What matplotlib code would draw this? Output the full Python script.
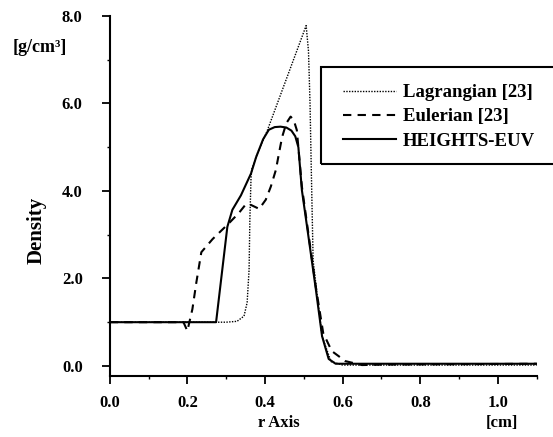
import matplotlib
matplotlib.use("Agg")
import matplotlib.pyplot as plt
from matplotlib.patches import Rectangle
from matplotlib.ticker import MultipleLocator, FormatStrFormatter

# Density profiles
heights_x = [0.0, 0.274, 0.303, 0.316, 0.338, 0.364, 0.377, 0.395, 0.41, 0.425,
             0.44, 0.455, 0.468, 0.478, 0.486, 0.495, 0.513, 0.531, 0.547, 0.564,
             0.582, 1.1]
heights_y = [1.0, 1.0, 3.18, 3.57, 3.9, 4.4, 4.77, 5.18, 5.4, 5.46,
             5.47, 5.45, 5.38, 5.25, 5.0, 4.02, 2.89, 1.75, 0.68, 0.16,
             0.05, 0.05]

euler_x = [0.0, 0.19, 0.20, 0.213, 0.223, 0.236, 0.265, 0.308, 0.333, 0.351,
           0.364, 0.385, 0.402, 0.415, 0.428, 0.436, 0.444, 0.455, 0.466, 0.474,
           0.482, 0.495, 0.513, 0.531, 0.550, 0.572, 0.607, 0.65, 0.70, 1.1]
euler_y = [1.0, 1.0, 0.8, 1.3, 1.9, 2.6, 2.9, 3.27, 3.5, 3.7,
           3.68, 3.59, 3.8, 4.1, 4.48, 4.86, 5.23, 5.55, 5.7, 5.62,
           5.39, 4.1, 2.95, 1.8, 0.75, 0.34, 0.11, 0.02, 0.03, 0.05]

lag_x = [0.0, 0.30, 0.328, 0.346, 0.354, 0.359, 0.361, 0.364, 0.366, 0.38,
         0.405, 0.506, 0.512, 0.516, 0.519, 0.524, 0.547, 0.57, 0.6, 1.1]
lag_y = [1.0, 1.0, 1.02, 1.14, 1.45, 2.2, 3.34, 4.3, 4.5, 4.85,
         5.36, 7.78, 7.2, 6.0, 4.6, 2.4, 0.68, 0.1, 0.02, 0.02]

labels = ["Lagrangian [23]", "Eulerian [23]", "HEIGHTS-EUV"]
x_ticks = [0.0, 0.2, 0.4, 0.6, 0.8, 1.0]
y_ticks = [0.0, 2.0, 4.0, 6.0, 8.0]

plt.rcParams["font.family"] = ["Liberation Serif", "DejaVu Serif"]
plt.rcParams["font.weight"] = "bold"

fig = plt.figure(figsize=(5.53, 4.37), dpi=100)
ax = fig.add_axes([0.1984, 0.1396, 0.7722, 0.8238])

ax.plot(lag_x, lag_y, color="black", lw=1.0, ls=(0, (1, 1)), label=labels[0])
ax.plot(euler_x, euler_y, color="black", lw=1.5, ls=(0, (4, 3)), label=labels[1])
ax.plot(heights_x, heights_y, color="black", lw=1.5, label=labels[2])

ax.set_xlim(0, 1.1)
ax.set_ylim(-0.23, 8.0)
ax.set_xticks(x_ticks)
ax.set_yticks(y_ticks)
ax.xaxis.set_minor_locator(MultipleLocator(0.1))
ax.yaxis.set_minor_locator(MultipleLocator(1.0))
ax.xaxis.set_major_formatter(FormatStrFormatter("%.1f"))
ax.yaxis.set_major_formatter(FormatStrFormatter("%.1f"))

for side in ["top", "right"]:
    ax.spines[side].set_visible(False)
for side in ["left", "bottom"]:
    ax.spines[side].set_linewidth(1.5)

ax.tick_params(axis="both", which="major", direction="out", length=5.5, width=1.3,
               labelsize=12)
ax.tick_params(axis="both", which="minor", direction="out", length=2.5, width=1.0)
ax.tick_params(axis="x", which="major", pad=8)
ax.tick_params(axis="y", which="major", pad=14)

fig.text(13 / 553, 1 - 47 / 437, "[g/cm³]", ha="left", va="center",
         fontsize=13, fontweight="bold")
fig.text(37 / 553, 1 - 230 / 437, "Density", ha="center", va="center",
         rotation=90, fontsize=15, fontweight="bold")
fig.text(279 / 553, 1 - 423 / 437, "r Axis", ha="center", va="center",
         fontsize=12, fontweight="bold")
fig.text(502 / 553, 1 - 423 / 437, "[cm]", ha="center", va="center",
         fontsize=12, fontweight="bold")

# legend box runs off the right edge in the original
leg = ax.legend(loc="upper left", bbox_to_anchor=(328 / 553, 1 - 69 / 437),
                bbox_transform=fig.transFigure, frameon=False,
                prop={"size": 13.5, "weight": "bold"},
                handlelength=2.8, handletextpad=0.4, borderpad=0.8,
                labelspacing=0.38, borderaxespad=0)
fig.add_artist(Rectangle((321 / 553, 1 - 164 / 437), 240 / 553, 97 / 437,
                         transform=fig.transFigure, fill=False,
                         edgecolor="black", lw=1.5, clip_on=False))

fig.savefig("out.png", dpi=100, facecolor="white")
